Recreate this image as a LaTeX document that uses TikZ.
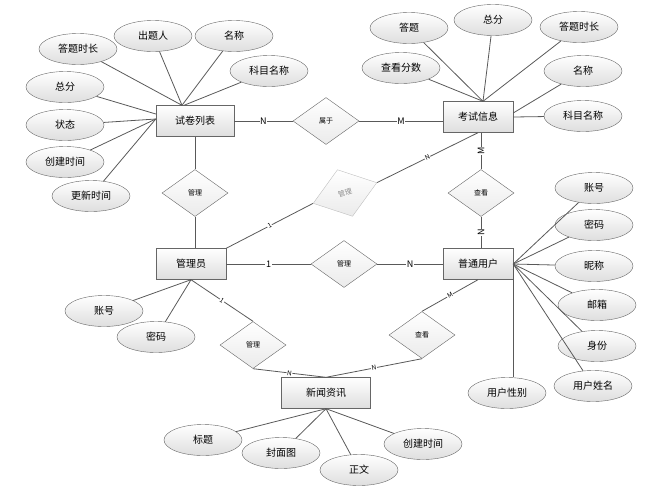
\documentclass[tikz,border=0pt]{standalone}
\usepackage{fontspec}
\setmainfont{Noto Sans CJK SC}
\usetikzlibrary{shapes.geometric}

\tikzset{
  entity/.style={draw=black!60,top color=white,bottom color=black!13,minimum width=70pt,minimum height=31pt,inner sep=0pt,font=\fontsize{10}{12}\selectfont},
  attr/.style={ellipse,draw=black!60,top color=white,bottom color=black!13,minimum width=78pt,minimum height=31pt,inner sep=0pt,font=\fontsize{10}{12}\selectfont},
  rel/.style={diamond,draw=black!60,top color=white,bottom color=black!8,minimum width=66pt,minimum height=47pt,inner sep=0pt,font=\fontsize{7}{8}\selectfont},
  conn/.style={draw=black!65,line width=0.8pt},
  card/.style={fill=white,inner sep=0.6pt,font=\fontsize{9}{10}\selectfont},
  tiny/.style={card,sloped,font=\fontsize{6.5}{7}\selectfont},
}

\begin{document}
\begin{tikzpicture}[x=1pt,y=-1pt]
\useasboundingbox (0,0) rectangle (645,491);

% entities
\node[entity,minimum width=78pt] (sj) at (195,121) {试卷列表};
\node[entity] (kx) at (478,117) {考试信息};
\node[entity] (gly) at (191,264) {管理员};
\node[entity] (pt) at (478,264) {普通用户};
\node[entity,minimum width=89pt] (xw) at (326,393) {新闻资讯};

% relations
\node[rel] (sy) at (326,121) {属于};
\node[rel] (gl1) at (195,193) {管理};
\node[rel] (ck1) at (481,193) {查看};
\node[rel] (gl2) at (344,264) {管理};
\node[rel] (gl3) at (253,345) {管理};
\node[rel] (ck2) at (422,335) {查看};
\node[rel,draw=black!25,text=black!45,minimum width=67pt,minimum height=49pt,rotate=18] (gl4) at (345,193) {管理};

% attributes of 试卷列表
\node[attr] (sjdtsc) at (78,49) {答题时长};
\node[attr] (sjcty) at (153,36) {出题人};
\node[attr] (sjmc) at (234,36) {名称};
\node[attr] (sjkm) at (269,71) {科目名称};
\node[attr] (sjzf) at (65,87) {总分};
\node[attr] (sjzt) at (65,125) {状态};
\node[attr] (sjcj) at (65,162) {创建时间};
\node[attr] (sjgx) at (91,196) {更新时间};

% attributes of 考试信息
\node[attr] (kxdt) at (409,28) {答题};
\node[attr] (kxzf) at (493,20) {总分};
\node[attr] (kxsc) at (579,27) {答题时长};
\node[attr] (kxck) at (401,68) {查看分数};
\node[attr] (kxmc) at (583,71) {名称};
\node[attr] (kxkm) at (583,116) {科目名称};

% attributes of 普通用户
\node[attr] (ptzh) at (594,188) {账号};
\node[attr] (ptmm) at (594,225) {密码};
\node[attr] (ptnc) at (594,266) {昵称};
\node[attr] (ptyx) at (597,305) {邮箱};
\node[attr] (ptsf) at (597,346) {身份};
\node[attr] (ptxm) at (593,386) {用户姓名};
\node[attr] (ptxb) at (507,393) {用户性别};

% attributes of 管理员
\node[attr] (glyzh) at (104,311) {账号};
\node[attr] (glymm) at (156,337) {密码};

% attributes of 新闻资讯
\node[attr] (xwbt) at (203,440) {标题};
\node[attr] (xwfm) at (281,453) {封面图};
\node[attr] (xwzw) at (359,470) {正文};
\node[attr] (xwcj) at (423,444) {创建时间};

% attribute links
\foreach \a in {sjdtsc,sjcty,sjmc}
  \draw[conn] (\a) -- ([xshift=-13pt]sj.north);
\draw[conn] (sjkm) -- ([xshift=-11pt]sj.north);
\draw[conn] (sjzf) -- ([yshift=7pt]sj.west);
\foreach \a in {sjzt,sjcj,sjgx}
  \draw[conn] (\a) -- ([yshift=2pt]sj.west);

\foreach \a in {kxdt,kxzf,kxsc,kxck}
  \draw[conn] (\a) -- ([xshift=5pt]kx.north);
\draw[conn] (kxmc) -- ([yshift=4pt]kx.east);
\draw[conn] (kxkm) -- (kx.east);

\foreach \a in {ptzh,ptmm,ptnc,ptyx,ptsf,ptxm}
  \draw[conn] (\a) -- (pt.east);
\draw[conn] (pt.east) -- (pt.east |- ptxb.north);

\foreach \a in {glyzh,glymm}
  \draw[conn] (\a) -- (gly.south);

\foreach \a in {xwbt,xwfm,xwzw,xwcj}
  \draw[conn] (\a) -- (xw.south);

% relation links
\draw[conn] (sj) -- node[card]{N} (sy);
\draw[conn] (sy.east) -- node[card]{M} (sy.east -| kx.west);
\draw[conn] (sj) -- (gl1);
\draw[conn] (gl1) -- (gl1 |- gly.north);
\draw[conn] (kx.south -| ck1) -- node[card,rotate=90]{M} (ck1);
\draw[conn] (ck1) -- node[card,rotate=90]{N} (ck1 |- pt.north);
\draw[conn] (gly) -- node[card]{1} (gl2);
\draw[conn] (gl2) -- node[card]{N} (pt);
\draw[conn] (gly.north east) -- node[tiny]{1} (gl4.west);
\draw[conn] (gl4.east) -- node[tiny]{N} (kx.south);
\draw[conn] (gly.south) -- node[tiny]{1} (gl3.north);
\draw[conn] (gl3.south) -- node[tiny]{N} (xw.north);
\draw[conn] (pt.south) -- node[tiny]{M} (ck2.north);
\draw[conn] (ck2.south) -- node[tiny]{N} (xw.north);
\end{tikzpicture}
\end{document}
